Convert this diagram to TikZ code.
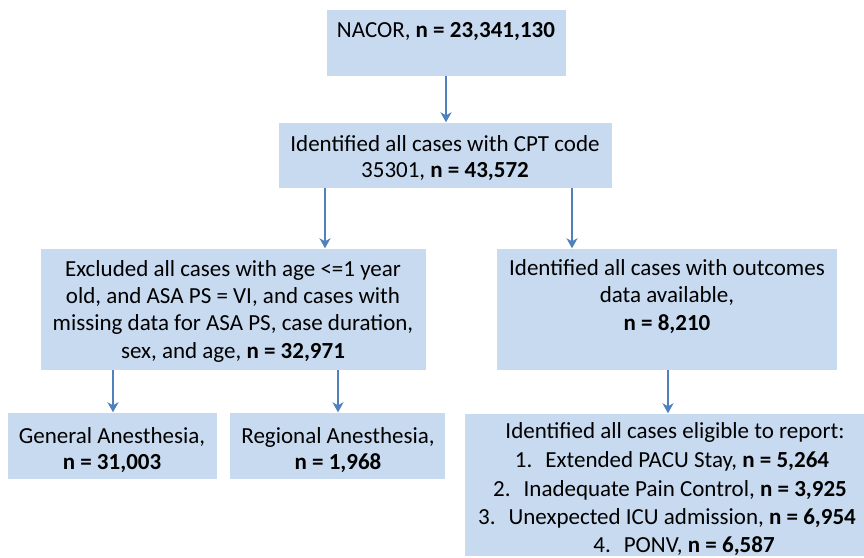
\documentclass[tikz,border=0pt]{standalone}
\usepackage{fontspec}
\setmainfont{Carlito}
\usetikzlibrary{arrows.meta}
\definecolor{boxfill}{RGB}{200,218,240}
\definecolor{arrcol}{RGB}{79,129,189}
\tikzset{
  box/.style={fill=boxfill, draw=none, inner sep=0pt, rectangle},
  txt/.style={anchor=base, inner sep=0pt, font=\fontsize{23bp}{27bp}\selectfont, text=black},
  arr/.style={draw=arrcol, line width=2.8bp, -{Stealth[length=10bp,width=11bp,inset=3bp]}, shorten >=0.5bp}
}
\begin{document}
\begin{tikzpicture}[x=1bp,y=-1bp]
\useasboundingbox (0,0) rectangle (864,558);
% boxes
\node[box, minimum width=239bp, minimum height=66bp] (nacor) at (446.5,43) {};
\node[box, minimum width=333bp, minimum height=65bp] (cpt) at (445.5,155.5) {};
\node[box, minimum width=385bp, minimum height=121bp] (excl) at (233.5,309.5) {};
\node[box, minimum width=340bp, minimum height=121bp] (outc) at (667,309.5) {};
\node[box, minimum width=209bp, minimum height=66bp] (gen) at (112.5,446) {};
\node[box, minimum width=215bp, minimum height=66bp] (reg) at (337.5,446) {};
\node[box, minimum width=399bp, minimum height=142bp] (elig) at (664.5,485) {};
% texts
\node[txt] (t1) at (446,38) {NACOR, \textbf{n = 23,341,130}};
\node[txt] (t2a) at (445,152) {Identified all cases with CPT code};
\node[txt] (t2b) at (445,178) {35301, \textbf{n = 43,572}};
\node[txt] (t3a) at (233,277) {Excluded all cases with age <=1 year};
\node[txt] (t3b) at (233,304) {old, and ASA PS = VI, and cases with};
\node[txt] (t3c) at (233,331) {missing data for ASA PS, case duration,};
\node[txt] (t3d) at (233,358) {sex, and age, \textbf{n = 32,971}};
\node[txt] (t4a) at (667,276) {Identified all cases with outcomes};
\node[txt] (t4b) at (667,303) {data available,};
\node[txt] (t4c) at (667,331) {\textbf{n = 8,210}};
\node[txt] (t5a) at (112,443) {General Anesthesia,};
\node[txt] (t5b) at (112,469) {\textbf{n = 31,003}};
\node[txt] (t6a) at (338,443) {Regional Anesthesia,};
\node[txt] (t6b) at (338,469) {\textbf{n = 1,968}};
\node[txt] (t7a) at (675,438) {Identified all cases eligible to report:};
\node[txt] (t7b) at (672,467) {1.\hspace{13bp}Extended PACU Stay, \textbf{n = 5,264}};
\node[txt] (t7c) at (670,496) {2.\hspace{13bp}Inadequate Pain Control, \textbf{n = 3,925}};
\node[txt] (t7d) at (667,524) {3.\hspace{13bp}Unexpected ICU admission, \textbf{n = 6,954}};
\node[txt] (t7e) at (684,552) {4.\hspace{13bp}PONV, \textbf{n = 6,587}};
% arrows
\draw[arr] (446,0 |- nacor.south) -- (446,0 |- cpt.north);
\draw[arr] (325,0 |- cpt.south) -- (325,0 |- excl.north);
\draw[arr] (572,0 |- cpt.south) -- (572,0 |- outc.north);
\draw[arr] (113,0 |- excl.south) -- (113,0 |- gen.north);
\draw[arr] (338,0 |- excl.south) -- (338,0 |- reg.north);
\draw[arr] (668,0 |- outc.south) -- (668,0 |- elig.north);
\end{tikzpicture}
\end{document}
